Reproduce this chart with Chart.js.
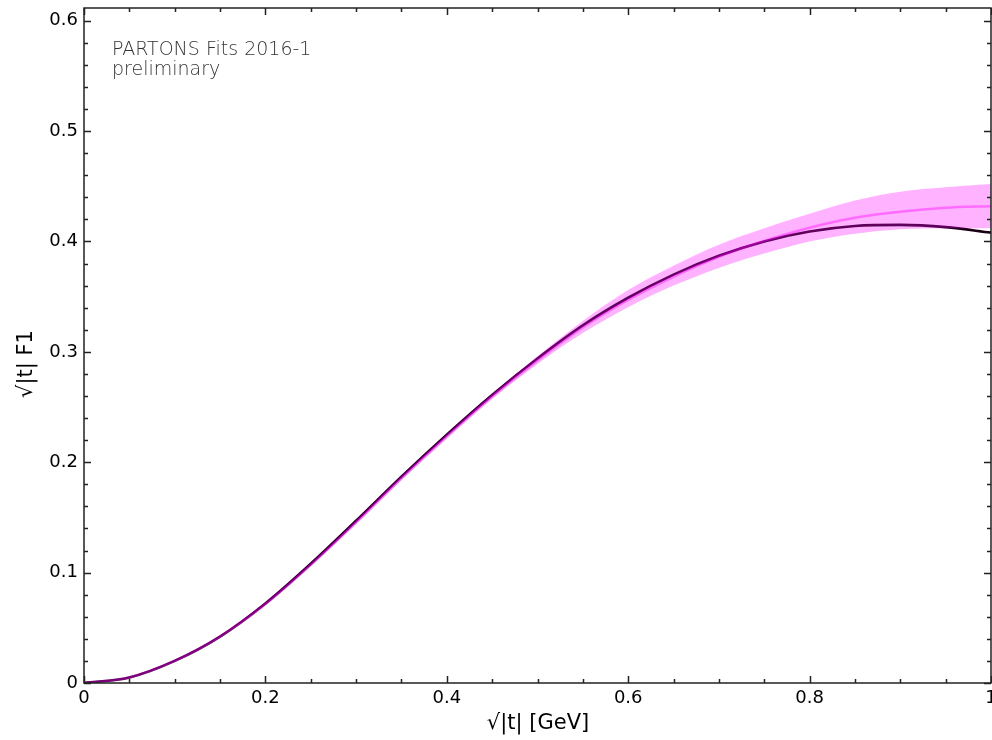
<!DOCTYPE html>
<html>
<head>
<meta charset="utf-8">
<script src="https://cdn.jsdelivr.net/npm/chart.js@4"></script>
<style>
  html, body { margin: 0; padding: 0; background: #fff; }
  #chart { display: block; }
</style>
</head>
<body>
<canvas id="chart" width="992" height="740"></canvas>
<script>
// sqrt|t| values (GeV)
const tVals = [0, 0.05, 0.1, 0.15, 0.2, 0.25, 0.3, 0.35, 0.4, 0.45, 0.5,
               0.55, 0.6, 0.65, 0.7, 0.75, 0.8, 0.85, 0.9, 0.95, 1.0];
// fit curve (dark line)
const fitCurve = [0, 0.005, 0.020, 0.042, 0.072, 0.108, 0.147, 0.187, 0.225, 0.261, 0.294,
                  0.324, 0.349, 0.370, 0.387, 0.400, 0.409, 0.414, 0.415, 0.413, 0.408];
// replica mean (pink line)
const meanCurve = [0, 0.005, 0.020, 0.042, 0.0715, 0.107, 0.1455, 0.1855, 0.2235, 0.2595, 0.292,
                   0.322, 0.347, 0.368, 0.386, 0.4005, 0.4125, 0.4215, 0.427, 0.4305, 0.432];
// uncertainty band
const bandUpper = [0, 0.005, 0.020, 0.042, 0.072, 0.108, 0.147, 0.187, 0.225, 0.2615, 0.296,
                   0.328, 0.356, 0.378, 0.397, 0.412, 0.425, 0.437, 0.445, 0.449, 0.452];
const bandLower = [0, 0.0045, 0.019, 0.041, 0.070, 0.1055, 0.1435, 0.1835, 0.221, 0.257, 0.289,
                   0.317, 0.3405, 0.360, 0.376, 0.389, 0.400, 0.407, 0.411, 0.412, 0.412];

const xTicks = [0, 0.2, 0.4, 0.6, 0.8, 1];
const yTicks = [0, 0.1, 0.2, 0.3, 0.4, 0.5, 0.6];
const xMinorStep = 0.05;
const yMinorStep = 0.02;

const pts = arr => arr.map((v, i) => ({ x: tVals[i], y: v }));

// frame, inward ticks on all sides, labels and titles
const framePlugin = {
  id: 'frame',
  afterDatasetsDraw(chart) {
    const { ctx, chartArea: a, scales: { x, y } } = chart;
    ctx.save();
    ctx.strokeStyle = '#222';
    ctx.lineWidth = 1.5;
    ctx.strokeRect(a.left, a.top, a.right - a.left, a.bottom - a.top);

    ctx.beginPath();
    for (let v = 0; v <= 1.0001; v += xMinorStep) {
      const px = Math.round(x.getPixelForValue(v)) + 0.5;
      const major = xTicks.some(t => Math.abs(t - v) < 1e-6);
      const len = major ? 7 : 4;
      ctx.moveTo(px, a.bottom); ctx.lineTo(px, a.bottom - len);
      ctx.moveTo(px, a.top); ctx.lineTo(px, a.top + len);
    }
    for (let v = 0; v <= 0.6115; v += yMinorStep) {
      const py = Math.round(y.getPixelForValue(v)) + 0.5;
      const major = yTicks.some(t => Math.abs(t - v) < 1e-6);
      const len = major ? 7 : 4;
      ctx.moveTo(a.left, py); ctx.lineTo(a.left + len, py);
      ctx.moveTo(a.right, py); ctx.lineTo(a.right - len, py);
    }
    ctx.stroke();

    ctx.fillStyle = '#000';
    ctx.font = '18px "DejaVu Sans"';
    ctx.textAlign = 'center';
    ctx.textBaseline = 'top';
    xTicks.forEach(t => ctx.fillText(String(t), x.getPixelForValue(t), a.bottom + 6));
    ctx.textAlign = 'right';
    ctx.textBaseline = 'middle';
    yTicks.forEach(t => ctx.fillText(String(t), a.left - 6, y.getPixelForValue(t)));

    ctx.font = '21px "DejaVu Sans"';
    ctx.textAlign = 'center';
    ctx.fillText('√|t| [GeV]', 538, 724);
    ctx.save();
    ctx.translate(27, 364);
    ctx.rotate(-Math.PI / 2);
    ctx.fillText('√|t| F1', 0, 0);
    ctx.restore();

    ctx.fillStyle = '#333';
    ctx.font = '200 19px "DejaVu Sans"';
    ctx.textAlign = 'left';
    ctx.textBaseline = 'alphabetic';
    ctx.fillText('PARTONS Fits 2016-1', 112, 55);
    ctx.fillText('preliminary', 112, 75);
    ctx.restore();
  }
};

new Chart(document.getElementById('chart'), {
  type: 'line',
  data: {
    datasets: [
      {
        label: 'mean',
        data: pts(meanCurve),
        borderColor: 'rgba(255, 0, 255, 0.4)',
        borderWidth: 2.5,
        pointRadius: 0,
        cubicInterpolationMode: 'monotone',
        fill: false,
        order: 0
      },
      {
        label: 'upper',
        data: pts(bandUpper),
        borderWidth: 0,
        borderColor: 'rgba(0,0,0,0)',
        backgroundColor: 'rgba(255, 0, 255, 0.3)',
        pointRadius: 0,
        cubicInterpolationMode: 'monotone',
        fill: '+1',
        order: 1
      },
      {
        label: 'lower',
        data: pts(bandLower),
        borderWidth: 0,
        borderColor: 'rgba(0,0,0,0)',
        pointRadius: 0,
        cubicInterpolationMode: 'monotone',
        fill: false,
        order: 1
      },
      {
        label: 'fit',
        data: pts(fitCurve),
        borderColor: '#1a0016',
        borderWidth: 2.6,
        pointRadius: 0,
        cubicInterpolationMode: 'monotone',
        fill: false,
        order: 2
      }
    ]
  },
  options: {
    responsive: false,
    devicePixelRatio: 1,
    animation: false,
    layout: { padding: { left: 84, right: 1, top: 8, bottom: 57 } },
    plugins: { legend: { display: false }, tooltip: { enabled: false } },
    scales: {
      x: { type: 'linear', min: 0, max: 1, display: false },
      y: { type: 'linear', min: 0, max: 0.6115, display: false }
    }
  },
  plugins: [framePlugin]
});
</script>
</body>
</html>
